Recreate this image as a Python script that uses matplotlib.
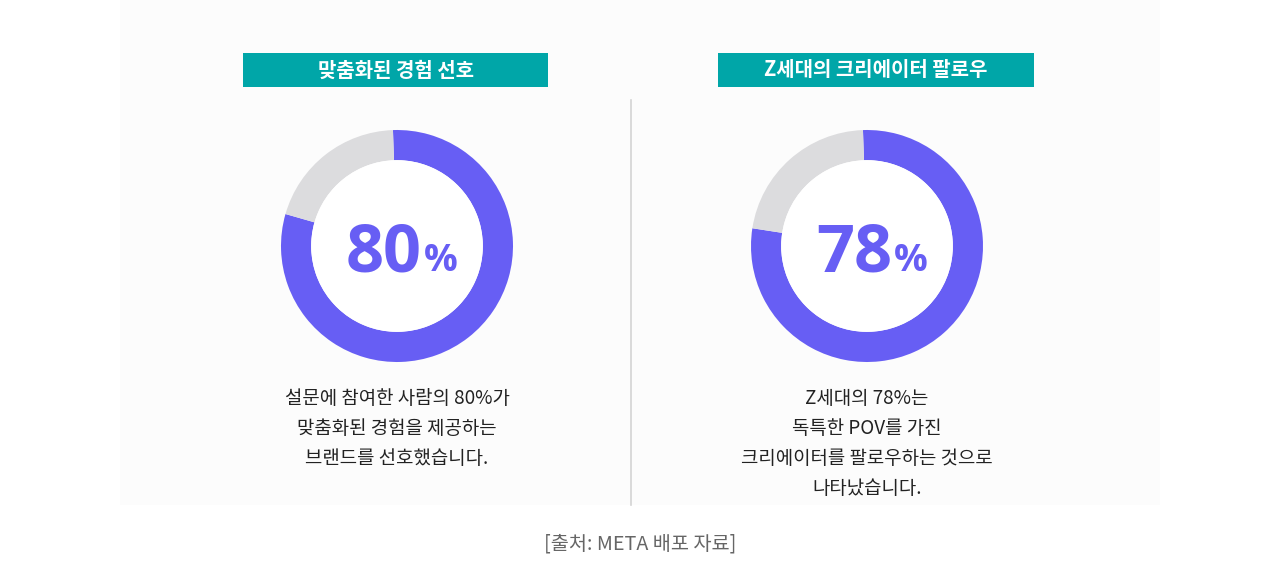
import matplotlib
matplotlib.use("Agg")
import matplotlib.pyplot as plt
from matplotlib.patches import Rectangle, Circle

plt.rcParams['font.family'] = ['Noto Sans CJK KR', 'DejaVu Sans']

# chart data
titles = ["맞춤화된 경험 선호", "Z세대의 크리에이터 팔로우"]
percents = [80, 78]
captions = [
    ["설문에 참여한 사람의 80%가", "맞춤화된 경험을 제공하는", "브랜드를 선호했습니다."],
    ["Z세대의 78%는", "독특한 POV를 가진", "크리에이터를 팔로우하는 것으로", "나타났습니다."],
]
source = "[출처: META 배포 자료]"

BLUE = "#675ef4"
GREY = "#dcdcde"
TEAL = "#00a6a8"
W, H = 1280, 586

fig = plt.figure(figsize=(W / 100, H / 100), dpi=100)
fig.patch.set_facecolor("white")

# background layer in pixel coordinates
bg = fig.add_axes([0, 0, 1, 1])
bg.set_xlim(0, W)
bg.set_ylim(H, 0)
bg.axis("off")
bg.add_patch(Rectangle((120, 0), 1040, 505, color="#fcfcfc", lw=0))
bg.plot([631, 631], [100, 505], color="#d4d4d4", lw=1.2)

centers_x = [397, 867]
banners = [(243, 548), (718, 1034)]
radius = 116

for i in range(2):
    cx = centers_x[i]
    x0, x1 = banners[i]
    bg.add_patch(Rectangle((x0, 53), x1 - x0, 34, color=TEAL, lw=0))
    bg.text((x0 + x1) / 2, 70, titles[i], color="white", fontsize=14.4,
            fontweight="bold", ha="center", va="center")

    # donut in its own axes
    size = 2.5 * radius
    ax = fig.add_axes([(cx - size / 2) / W, 1 - (246 + size / 2) / H, size / W, size / H])
    ax.pie([percents[i], 100 - percents[i]], colors=[BLUE, GREY], startangle=92,
           counterclock=False, radius=1, wedgeprops=dict(width=0.26, linewidth=0))
    ax.add_patch(Circle((0, 0), 0.74, color="white", lw=0))
    ax.set_xlim(-1.25, 1.25)
    ax.set_ylim(-1.25, 1.25)
    ax.set_aspect("equal")
    ax.axis("off")

    for j, line in enumerate(captions[i]):
        bg.text(cx, 399 + j * 30, line, color="#222222", fontsize=13.6,
                ha="center", va="center")

# overlay for the big numbers so they sit above the donuts
top = fig.add_axes([0, 0, 1, 1])
top.set_xlim(0, W)
top.set_ylim(H, 0)
top.axis("off")
top.patch.set_alpha(0)
for i in range(2):
    cx = centers_x[i]
    top.text(cx + 25, 271, str(percents[i]), color=BLUE, fontsize=48,
             fontweight="bold", family=["Open Sans"], ha="right", va="baseline")
    top.text(cx + 27, 271, "%", color=BLUE, fontsize=27, fontweight="bold",
             family=["Open Sans"], ha="left", va="baseline")

bg.text(640, 544, source, color="#666666", fontsize=14.2, fontweight="light",
        ha="center", va="center")

fig.savefig("out.png", dpi=100, facecolor="white")
